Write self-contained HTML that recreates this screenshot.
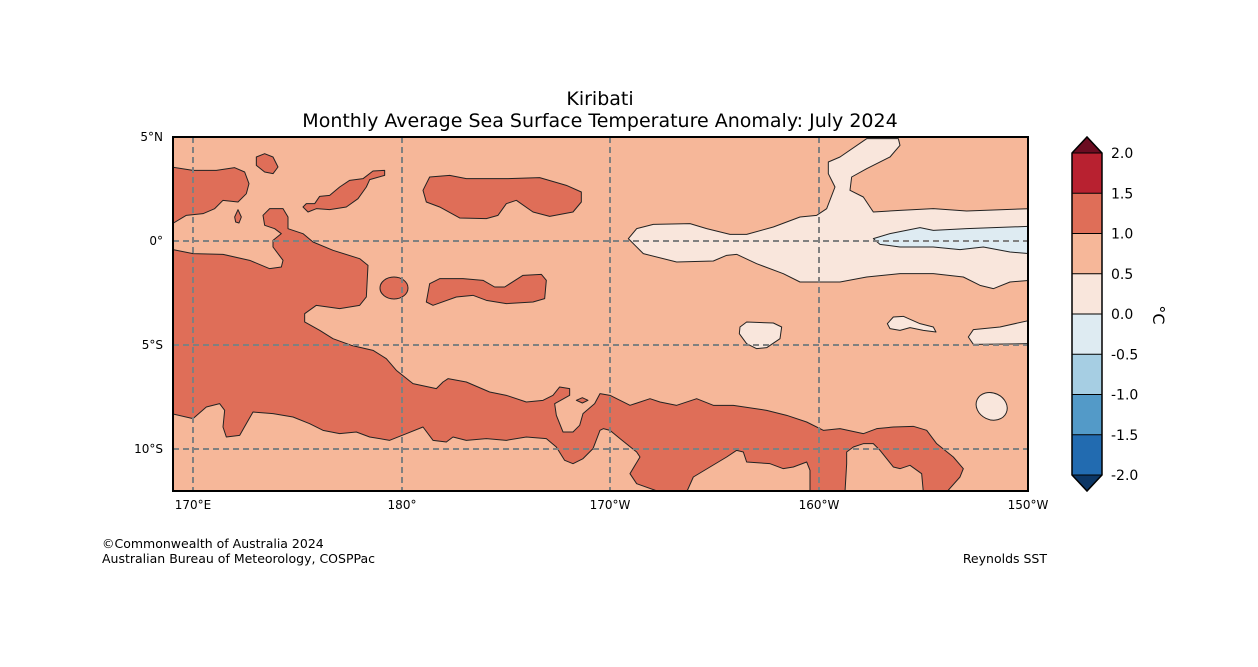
<!DOCTYPE html>
<html><head><meta charset="utf-8"><style>
body{margin:0;background:#fff;}
svg{display:block;font-family:"DejaVu Sans","Liberation Sans",sans-serif;}
</style></head><body>
<svg id="chart" width="1258" height="667" viewBox="0 0 1258 667">
<rect width="1258" height="667" fill="#fff"/>
<text x="600" y="105" font-size="19" text-anchor="middle">Kiribati</text>
<text x="600" y="127" font-size="19" text-anchor="middle">Monthly Average Sea Surface Temperature Anomaly: July 2024</text>
<defs><clipPath id="mapclip"><rect x="173" y="137" width="855" height="354"/></clipPath></defs>
<g clip-path="url(#mapclip)">
<rect x="173" y="137" width="855" height="354" fill="#f6b799"/>
<g transform="translate(173,137) scale(0.33333)" stroke="#222" stroke-width="3" stroke-linejoin="round">
<polygon fill="#df6e58" points="0,338 60,350 150,352 230,370 290,395 325,390 330,370 300,330 300,310 325,290 305,275 275,265 270,235 290,215 330,215 345,240 345,275 390,290 420,315 480,340 560,365 585,385 580,480 560,505 500,515 430,505 395,530 395,555 440,580 480,605 535,625 600,640 640,665 670,700 720,740 790,755 810,735 825,725 880,735 950,765 1000,775 1060,795 1110,790 1140,775 1160,750 1190,755 1190,775 1145,800 1150,835 1170,885 1200,885 1220,865 1230,830 1265,800 1281,770 1311,775 1371,805 1431,785 1461,795 1511,805 1571,785 1621,805 1681,805 1781,820 1841,835 1901,855 1951,880 2001,875 2071,890 2111,875 2161,870 2221,868 2261,880 2291,920 2341,960 2371,995 2361,1020 2321,1065 2251,1065 2246,1010 2211,985 2181,995 2161,990 2121,940 2101,920 2071,920 2041,930 2021,945 2021,980 2016,1065 1911,1065 1911,1000 1901,975 1861,990 1831,995 1791,980 1721,975 1711,945 1691,940 1661,960 1611,990 1561,1020 1541,1065 1461,1065 1391,1040 1371,1010 1401,960 1391,945 1341,905 1311,880 1291,875 1281,880 1260,935 1230,965 1200,980 1175,970 1150,930 1120,905 1060,900 1000,910 940,905 880,910 840,900 820,915 780,910 750,870 700,890 650,910 590,900 550,885 500,890 450,880 410,860 360,840 300,830 240,825 220,860 200,895 160,900 150,870 155,820 140,800 100,810 60,845 -5,830 -5,338"/>
<polygon fill="#df6e58" points="-5,90 60,100 130,100 185,92 215,105 228,140 220,170 195,195 150,190 125,215 90,230 40,235 -5,262"/>
<polygon fill="#df6e58" points="250,60 275,50 300,60 315,90 300,110 275,105 250,85"/>
<polygon fill="#df6e58" points="195,218 205,240 198,258 188,255 185,240"/>
<polygon fill="#df6e58" points="390,210 400,200 425,200 440,178 470,175 500,150 530,130 570,125 600,102 635,100 635,115 590,128 580,150 555,185 520,210 470,218 430,215 405,225"/>
<polygon fill="#df6e58" points="750,160 770,120 830,115 880,125 1000,125 1100,122 1180,145 1225,165 1225,195 1200,225 1130,238 1080,225 1030,190 1000,200 975,235 940,245 860,243 800,210 760,195"/>
<ellipse fill="#df6e58" cx="663" cy="453" rx="42" ry="33"/>
<polygon fill="#df6e58" points="770,440 800,425 870,425 930,430 965,450 995,450 1050,415 1105,412 1120,430 1115,485 1080,495 1000,500 940,490 900,475 850,480 780,505 760,495"/>
<polygon fill="#df6e58" points="1210,790 1228,782 1245,790 1228,798"/>
<polygon fill="#f9e6dc" points="1366,305 1391,275 1441,262 1551,260 1601,275 1671,292 1721,292 1801,270 1881,240 1931,235 1961,215 1986,150 1966,110 1966,75 2001,60 2081,5 2176,5 2181,25 2151,60 2081,95 2036,120 2031,160 2071,180 2101,225 2181,220 2281,215 2381,222 2570,215 2570,430 2511,435 2461,455 2421,445 2371,420 2281,410 2181,410 2081,420 2001,435 1881,435 1831,410 1751,380 1691,352 1661,355 1621,372 1511,375 1411,350"/>
<polygon fill="#deebf2" points="2101,305 2151,290 2241,272 2281,280 2381,275 2570,268 2570,350 2511,345 2431,330 2361,338 2281,330 2181,330 2121,322"/>
<polygon fill="#f9e6dc" points="1701,570 1721,555 1801,558 1826,570 1821,605 1781,632 1751,635 1721,620 1699,590"/>
<polygon fill="#f9e6dc" points="2143,560 2161,540 2191,538 2241,560 2281,570 2289,585 2251,580 2211,572 2181,580 2151,575"/>
<polygon fill="#f9e6dc" points="2570,550 2481,570 2401,578 2386,600 2401,622 2570,620"/>
<ellipse fill="#f9e6dc" cx="2456" cy="808" rx="48" ry="40" transform="rotate(25 2456 808)"/>
</g>
<g stroke="#808080" stroke-width="2" stroke-dasharray="6,4">
<line x1="193" y1="137" x2="193" y2="491"/>
<line x1="402" y1="137" x2="402" y2="491"/>
<line x1="610" y1="137" x2="610" y2="491"/>
<line x1="819" y1="137" x2="819" y2="491"/>
<line x1="173" y1="241" x2="1028" y2="241"/>
<line x1="173" y1="345" x2="1028" y2="345"/>
<line x1="173" y1="449" x2="1028" y2="449"/>
</g>
</g>
<rect x="173" y="137" width="855" height="354" fill="none" stroke="#000" stroke-width="2"/>
<g font-size="12">
<text x="163" y="141" text-anchor="end">5°N</text>
<text x="163" y="245" text-anchor="end">0°</text>
<text x="163" y="349" text-anchor="end">5°S</text>
<text x="163" y="453" text-anchor="end">10°S</text>
<text x="193" y="509" text-anchor="middle">170°E</text>
<text x="402" y="509" text-anchor="middle">180°</text>
<text x="610" y="509" text-anchor="middle">170°W</text>
<text x="819" y="509" text-anchor="middle">160°W</text>
<text x="1028" y="509" text-anchor="middle">150°W</text>
</g>
<g id="colorbar"></g>
<text transform="translate(1153,315) rotate(90)" font-size="16" text-anchor="middle">°C</text>
<text x="102" y="548" font-size="12.5">©Commonwealth of Australia 2024</text>
<text x="102" y="563" font-size="12.5">Australian Bureau of Meteorology, COSPPac</text>
<text x="1047" y="563" font-size="12.5" text-anchor="end">Reynolds SST</text>
</svg>
<script>
const levels = [2.0, 1.5, 1.0, 0.5, 0.0, -0.5, -1.0, -1.5, -2.0];
const levelLabels = ["2.0","1.5","1.0","0.5","0.0","-0.5","-1.0","-1.5","-2.0"];
const bandColors = ["#b82130","#df6e58","#f6b799","#f9e6dc","#deebf2","#a6cee3","#539ac8","#226bb0"];
const overColor = "#6b0c21";
const underColor = "#0c3665";
(function(){
  const ns="http://www.w3.org/2000/svg";
  const g=document.getElementById('colorbar');
  const x0=1072,w=30,yTop=153,yBot=475;
  const vmax=levels[0],vmin=levels[levels.length-1];
  const y=v=>yTop+(vmax-v)/(vmax-vmin)*(yBot-yTop);
  for(let i=0;i<bandColors.length;i++){
    const r=document.createElementNS(ns,'rect');
    r.setAttribute('x',x0);r.setAttribute('y',y(levels[i]));
    r.setAttribute('width',w);r.setAttribute('height',y(levels[i+1])-y(levels[i]));
    r.setAttribute('fill',bandColors[i]);
    
    
    g.appendChild(r);
  }
  const t1=document.createElementNS(ns,'polygon');
  t1.setAttribute('points',`${x0},${yTop} ${x0+w/2},${yTop-16} ${x0+w},${yTop}`);
  t1.setAttribute('fill',overColor);
  
  
  g.appendChild(t1);
  const t2=document.createElementNS(ns,'polygon');
  t2.setAttribute('points',`${x0},${yBot} ${x0+w/2},${yBot+16} ${x0+w},${yBot}`);
  t2.setAttribute('fill',underColor);
  
  
  g.appendChild(t2);
  const o=document.createElementNS(ns,'polygon');
  o.setAttribute('points',`${x0},${yTop} ${x0+w/2},${yTop-16} ${x0+w},${yTop} ${x0+w},${yBot} ${x0+w/2},${yBot+16} ${x0},${yBot}`);
  o.setAttribute('fill','none');o.setAttribute('stroke','#000');o.setAttribute('stroke-width','1.5');
  
  
  g.appendChild(o);
  levels.forEach((v,i)=>{
    const l=document.createElementNS(ns,'line');
    l.setAttribute('x1',x0);l.setAttribute('x2',x0+w);
    l.setAttribute('y1',y(v));l.setAttribute('y2',y(v));
    l.setAttribute('stroke','#000');l.setAttribute('stroke-width','1');
    
    
    g.appendChild(l);
    const t=document.createElementNS(ns,'text');
    t.setAttribute('x',x0+w+9);t.setAttribute('y',y(v)+5);
    t.setAttribute('font-size','14');
    t.textContent=levelLabels[i];
    
    
    g.appendChild(t);
  });
})();
</script>
</body></html>
